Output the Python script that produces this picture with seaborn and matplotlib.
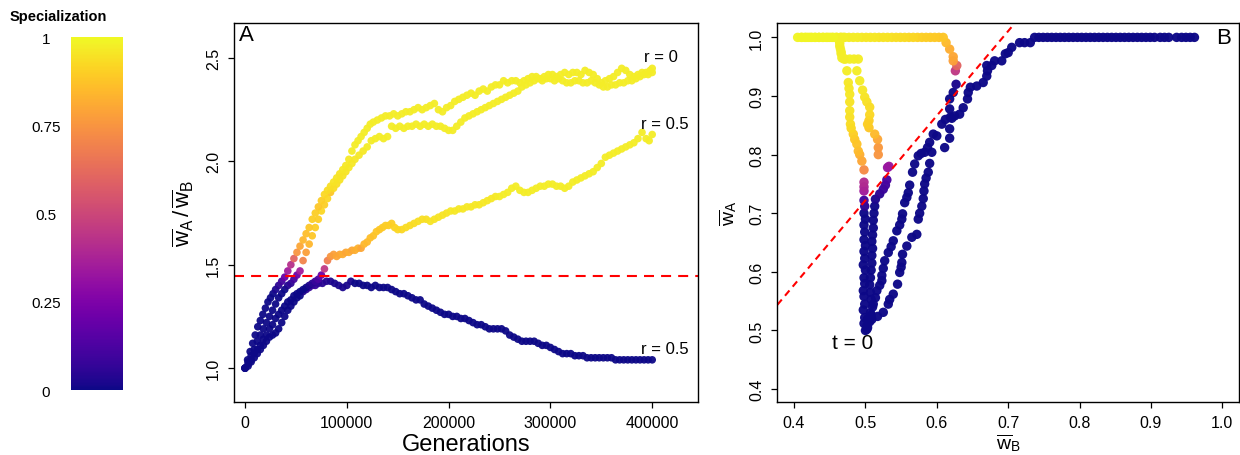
import matplotlib
matplotlib.use("Agg")
import matplotlib.pyplot as plt
import pandas as pd
import seaborn as sns

# ---- data ----
# panel A runs: (generations in thousands, wA/wB, specialization)
run_a4 = [  # r = 0.5, stays generalist
    (0, 1.00, 0), (3, 1.01, 0), (6, 1.03, 0), (9, 1.05, 0), (12, 1.07, 0), (15, 1.09, 0),
    (18, 1.11, 0), (21, 1.13, 0), (24, 1.15, 0), (27, 1.16, 0), (30, 1.17, 0), (33, 1.19, 0),
    (36, 1.22, 0), (39, 1.25, 0), (42, 1.28, 0), (45, 1.30, 0), (48, 1.32, 0), (51, 1.34, 0),
    (54, 1.35, 0), (57, 1.37, 0.03), (60, 1.38, 0.05), (63, 1.39, 0.08), (66, 1.40, 0.1),
    (69, 1.40, 0.08), (72, 1.41, 0.06), (76, 1.41, 0.05), (80, 1.42, 0.04), (84, 1.42, 0.03),
    (88, 1.41, 0.02), (92, 1.40, 0.02), (96, 1.39, 0.02), (100, 1.40, 0.02), (104, 1.42, 0.02),
    (108, 1.41, 0), (112, 1.41, 0), (116, 1.40, 0), (120, 1.40, 0), (124, 1.39, 0), (128, 1.40, 0),
    (132, 1.39, 0), (136, 1.39, 0), (140, 1.39, 0), (144, 1.38, 0), (148, 1.37, 0), (152, 1.36, 0),
    (156, 1.36, 0), (160, 1.35, 0), (164, 1.34, 0), (168, 1.33, 0), (172, 1.33, 0), (176, 1.31, 0),
    (180, 1.30, 0), (184, 1.29, 0), (188, 1.28, 0), (192, 1.27, 0), (196, 1.26, 0), (200, 1.26, 0),
    (204, 1.25, 0), (208, 1.25, 0), (212, 1.24, 0), (216, 1.24, 0), (220, 1.23, 0), (224, 1.22, 0),
    (228, 1.21, 0), (232, 1.21, 0), (236, 1.20, 0), (240, 1.19, 0), (244, 1.19, 0), (248, 1.19, 0),
    (252, 1.19, 0), (256, 1.18, 0), (260, 1.16, 0), (264, 1.15, 0), (268, 1.14, 0), (272, 1.13, 0),
    (276, 1.13, 0), (280, 1.13, 0), (284, 1.13, 0), (288, 1.12, 0), (292, 1.11, 0), (296, 1.11, 0),
    (300, 1.10, 0), (304, 1.09, 0), (308, 1.08, 0), (312, 1.07, 0), (316, 1.07, 0), (320, 1.07, 0),
    (324, 1.06, 0), (328, 1.06, 0), (332, 1.06, 0), (336, 1.05, 0), (340, 1.05, 0), (344, 1.05, 0),
    (348, 1.05, 0), (352, 1.05, 0), (356, 1.05, 0), (360, 1.05, 0), (364, 1.04, 0), (368, 1.04, 0),
    (372, 1.04, 0), (376, 1.04, 0), (380, 1.04, 0), (384, 1.04, 0), (388, 1.04, 0), (392, 1.04, 0),
    (396, 1.04, 0), (400, 1.04, 0),
]
run_a3 = [  # r = 0.5, specialises late
    (0, 1.00, 0), (3, 1.02, 0), (6, 1.04, 0), (9, 1.07, 0), (12, 1.09, 0), (15, 1.11, 0),
    (18, 1.14, 0), (21, 1.16, 0), (24, 1.19, 0), (27, 1.21, 0), (30, 1.24, 0), (33, 1.26, 0),
    (36, 1.28, 0), (39, 1.30, 0), (42, 1.32, 0), (45, 1.33, 0), (48, 1.35, 0), (51, 1.36, 0),
    (54, 1.37, 0), (57, 1.38, 0), (60, 1.39, 0), (63, 1.40, 0.02), (66, 1.41, 0.05), (69, 1.42, 0.08),
    (72, 1.43, 0.12), (75, 1.45, 0.2), (78, 1.48, 0.45), (81, 1.52, 0.68), (84, 1.54, 0.75),
    (87, 1.55, 0.78), (90, 1.54, 0.8), (93, 1.55, 0.8), (96, 1.55, 0.82), (99, 1.56, 0.8),
    (102, 1.56, 0.82), (105, 1.57, 0.8), (108, 1.57, 0.82), (111, 1.58, 0.83), (114, 1.58, 0.8),
    (117, 1.60, 0.84), (120, 1.61, 0.85), (123, 1.63, 0.86), (126, 1.64, 0.87), (129, 1.66, 0.88),
    (132, 1.67, 0.88), (135, 1.68, 0.89), (138, 1.69, 0.9), (141, 1.69, 0.9), (144, 1.70, 0.9),
    (147, 1.68, 0.91), (150, 1.67, 0.92), (154, 1.67, 0.92), (158, 1.68, 0.93), (162, 1.69, 0.93),
    (166, 1.70, 0.93), (170, 1.71, 0.94), (174, 1.72, 0.94), (178, 1.72, 0.94), (182, 1.71, 0.95),
    (186, 1.72, 0.95), (190, 1.73, 0.95), (194, 1.74, 0.95), (198, 1.75, 0.95), (202, 1.76, 0.96),
    (206, 1.76, 0.96), (210, 1.77, 0.96), (214, 1.77, 0.96), (218, 1.78, 0.96), (222, 1.78, 0.96),
    (226, 1.79, 0.96), (230, 1.79, 0.96), (234, 1.80, 0.96), (238, 1.81, 0.96), (242, 1.82, 0.96),
    (246, 1.83, 0.96), (250, 1.83, 0.97), (254, 1.84, 0.97), (258, 1.85, 0.97), (262, 1.87, 0.97),
    (266, 1.88, 0.97), (270, 1.86, 0.97), (274, 1.85, 0.97), (278, 1.85, 0.97), (282, 1.86, 0.97),
    (286, 1.87, 0.97), (290, 1.88, 0.97), (294, 1.88, 0.97), (298, 1.89, 0.97), (302, 1.89, 0.97),
    (306, 1.88, 0.97), (310, 1.88, 0.97), (314, 1.87, 0.97), (318, 1.88, 0.97), (322, 1.90, 0.97),
    (326, 1.91, 0.97), (330, 1.92, 0.97), (334, 1.93, 0.97), (338, 1.94, 0.97), (342, 1.95, 0.97),
    (346, 1.97, 0.97), (350, 1.99, 0.97), (354, 2.02, 0.97), (358, 2.03, 0.97), (362, 2.04, 0.97),
    (366, 2.05, 0.97), (370, 2.06, 0.97), (374, 2.07, 0.97), (378, 2.08, 0.97), (382, 2.09, 0.97),
    (386, 2.11, 0.97), (390, 2.14, 0.97), (394, 2.11, 0.97), (397, 2.10, 0.97), (400, 2.13, 0.97),
]
run_a2 = [  # r = 0, second run
    (0, 1.00, 0), (3, 1.03, 0), (6, 1.06, 0), (9, 1.09, 0), (12, 1.13, 0), (15, 1.16, 0),
    (18, 1.19, 0), (21, 1.22, 0), (24, 1.25, 0), (27, 1.28, 0), (30, 1.31, 0), (33, 1.34, 0),
    (36, 1.36, 0), (39, 1.38, 0), (42, 1.40, 0.03), (45, 1.41, 0.06), (48, 1.43, 0.1),
    (51, 1.45, 0.2), (54, 1.47, 0.35), (57, 1.52, 0.7), (60, 1.56, 0.78), (63, 1.60, 0.84),
    (66, 1.64, 0.88), (69, 1.68, 0.9), (72, 1.72, 0.9), (75, 1.76, 0.92), (78, 1.79, 0.9),
    (81, 1.82, 0.92), (84, 1.85, 0.88), (87, 1.87, 0.93), (90, 1.89, 0.94), (93, 1.91, 0.95),
    (96, 1.93, 0.95), (99, 1.95, 0.95), (102, 1.97, 0.96), (105, 1.99, 0.96), (108, 2.01, 0.96),
    (112, 2.03, 0.96), (116, 2.05, 0.96), (120, 2.07, 0.97), (124, 2.10, 0.97), (128, 2.11, 0.97),
    (132, 2.12, 0.97), (136, 2.11, 0.97), (140, 2.12, 0.97), (144, 2.17, 0.97), (148, 2.16, 0.97),
    (152, 2.17, 0.97), (156, 2.16, 0.97), (160, 2.17, 0.97), (164, 2.17, 0.97), (168, 2.18, 0.97),
    (172, 2.17, 0.97), (176, 2.18, 0.97), (180, 2.17, 0.97), (184, 2.18, 0.97), (188, 2.17, 0.97),
    (192, 2.17, 0.97), (196, 2.16, 0.97), (200, 2.15, 0.97), (204, 2.15, 0.97), (208, 2.17, 0.97),
    (212, 2.19, 0.97), (216, 2.21, 0.97), (220, 2.22, 0.97), (224, 2.23, 0.97), (228, 2.24, 0.97),
    (232, 2.25, 0.97), (236, 2.26, 0.97), (240, 2.27, 0.97), (244, 2.28, 0.97), (248, 2.29, 0.97),
    (252, 2.30, 0.97), (256, 2.31, 0.97), (260, 2.32, 0.97), (264, 2.33, 0.97), (268, 2.34, 0.97),
    (272, 2.36, 0.97), (276, 2.37, 0.97), (280, 2.38, 0.97), (284, 2.39, 0.97), (288, 2.40, 0.97),
    (292, 2.39, 0.97), (296, 2.40, 0.97), (300, 2.40, 0.97), (304, 2.39, 0.97), (308, 2.40, 0.97),
    (312, 2.39, 0.97), (316, 2.38, 0.97), (320, 2.38, 0.97), (324, 2.39, 0.97), (328, 2.39, 0.97),
    (332, 2.38, 0.97), (336, 2.38, 0.97), (340, 2.39, 0.97), (344, 2.38, 0.97), (348, 2.37, 0.97),
    (352, 2.36, 0.97), (356, 2.36, 0.97), (360, 2.37, 0.97), (364, 2.37, 0.97), (368, 2.38, 0.97),
    (372, 2.38, 0.97), (376, 2.39, 0.97), (380, 2.39, 0.97), (384, 2.40, 0.97), (388, 2.41, 0.97),
    (392, 2.42, 0.97), (396, 2.42, 0.97), (400, 2.43, 0.97),
]
run_a1 = [  # r = 0, first run
    (0, 1.00, 0), (2.5, 1.04, 0), (5, 1.08, 0), (7.5, 1.12, 0), (10, 1.16, 0), (12.5, 1.20, 0),
    (15, 1.23, 0), (17.5, 1.26, 0), (20, 1.29, 0), (22.5, 1.32, 0), (25, 1.34, 0), (27.5, 1.36, 0),
    (30, 1.38, 0.02), (33, 1.40, 0.05), (36, 1.42, 0.1), (39, 1.44, 0.2), (42, 1.47, 0.35),
    (45, 1.50, 0.42), (48, 1.53, 0.6), (51, 1.56, 0.75), (54, 1.59, 0.8), (57, 1.62, 0.84),
    (60, 1.65, 0.86), (63, 1.68, 0.88), (66, 1.72, 0.9), (69, 1.75, 0.9), (72, 1.78, 0.88),
    (75, 1.81, 0.9), (78, 1.84, 0.92), (81, 1.86, 0.93), (84, 1.88, 0.94), (87, 1.90, 0.95),
    (90, 1.92, 0.95), (93, 1.94, 0.95), (96, 1.96, 0.96), (99, 1.98, 0.96), (102, 2.01, 0.96),
    (105, 2.05, 0.97), (108, 2.08, 0.97), (111, 2.10, 0.97), (114, 2.12, 0.97), (117, 2.14, 0.97),
    (120, 2.16, 0.97), (123, 2.18, 0.97), (126, 2.19, 0.97), (130, 2.20, 0.97), (134, 2.21, 0.97),
    (138, 2.22, 0.97), (142, 2.22, 0.97), (146, 2.23, 0.97), (150, 2.22, 0.97), (154, 2.23, 0.97),
    (158, 2.24, 0.97), (162, 2.24, 0.97), (166, 2.25, 0.97), (170, 2.26, 0.97), (174, 2.25, 0.97),
    (178, 2.26, 0.97), (182, 2.27, 0.97), (186, 2.28, 0.97), (190, 2.25, 0.97), (194, 2.24, 0.97),
    (198, 2.26, 0.97), (202, 2.27, 0.97), (206, 2.29, 0.97), (210, 2.30, 0.97), (214, 2.31, 0.97),
    (218, 2.32, 0.97), (222, 2.33, 0.97), (226, 2.32, 0.97), (230, 2.34, 0.97), (234, 2.35, 0.97),
    (238, 2.34, 0.97), (242, 2.36, 0.97), (246, 2.37, 0.97), (250, 2.37, 0.97), (254, 2.39, 0.97),
    (258, 2.38, 0.97), (262, 2.39, 0.97), (266, 2.39, 0.97), (270, 2.38, 0.97), (274, 2.39, 0.97),
    (278, 2.40, 0.97), (282, 2.41, 0.97), (286, 2.41, 0.97), (290, 2.40, 0.97), (294, 2.41, 0.97),
    (298, 2.42, 0.97), (302, 2.42, 0.97), (306, 2.41, 0.97), (310, 2.42, 0.97), (314, 2.43, 0.97),
    (318, 2.42, 0.97), (322, 2.43, 0.97), (326, 2.43, 0.97), (330, 2.42, 0.97), (334, 2.44, 0.97),
    (338, 2.43, 0.97), (342, 2.42, 0.97), (346, 2.40, 0.97), (350, 2.38, 0.97), (354, 2.39, 0.97),
    (358, 2.40, 0.97), (362, 2.41, 0.97), (366, 2.43, 0.97), (370, 2.45, 0.97), (374, 2.44, 0.97),
    (378, 2.42, 0.97), (382, 2.41, 0.97), (386, 2.42, 0.97), (390, 2.43, 0.97), (394, 2.43, 0.97),
    (398, 2.44, 0.97), (400, 2.45, 0.97),
]

# panel B runs: (wB, wA, specialization)
run_b4 = [  # ends generalist at the top right
    (0.503, 0.520, 0), (0.507, 0.530, 0), (0.511, 0.545, 0), (0.514, 0.556, 0), (0.516, 0.568, 0),
    (0.520, 0.577, 0), (0.523, 0.585, 0), (0.523, 0.594, 0), (0.525, 0.606, 0), (0.527, 0.619, 0),
    (0.532, 0.633, 0), (0.536, 0.643, 0), (0.539, 0.653, 0), (0.544, 0.670, 0), (0.548, 0.680, 0),
    (0.551, 0.690, 0), (0.552, 0.699, 0), (0.555, 0.718, 0), (0.558, 0.727, 0), (0.560, 0.735, 0),
    (0.562, 0.748, 0), (0.566, 0.770, 0), (0.569, 0.784, 0), (0.574, 0.798, 0), (0.578, 0.802, 0),
    (0.583, 0.804, 0), (0.587, 0.812, 0), (0.590, 0.821, 0), (0.595, 0.835, 0), (0.600, 0.832, 0),
    (0.607, 0.852, 0), (0.612, 0.860, 0), (0.619, 0.864, 0), (0.625, 0.866, 0), (0.632, 0.869, 0),
    (0.637, 0.880, 0), (0.643, 0.895, 0), (0.644, 0.906, 0), (0.647, 0.915, 0), (0.656, 0.917, 0),
    (0.665, 0.923, 0), (0.670, 0.934, 0), (0.671, 0.943, 0), (0.670, 0.952, 0), (0.677, 0.952, 0),
    (0.681, 0.960, 0), (0.691, 0.960, 0), (0.696, 0.972, 0), (0.700, 0.974, 0), (0.705, 0.983, 0),
    (0.716, 0.991, 0), (0.723, 0.991, 0), (0.731, 0.991, 0), (0.737, 1.0, 0), (0.743, 1.0, 0),
    (0.749, 1.0, 0), (0.755, 1.0, 0), (0.761, 1.0, 0), (0.767, 1.0, 0), (0.773, 1.0, 0),
    (0.779, 1.0, 0), (0.785, 1.0, 0), (0.791, 1.0, 0), (0.797, 1.0, 0), (0.803, 1.0, 0),
    (0.809, 1.0, 0), (0.815, 1.0, 0), (0.821, 1.0, 0), (0.827, 1.0, 0), (0.833, 1.0, 0),
    (0.839, 1.0, 0), (0.845, 1.0, 0), (0.851, 1.0, 0), (0.857, 1.0, 0), (0.863, 1.0, 0),
    (0.869, 1.0, 0), (0.875, 1.0, 0), (0.881, 1.0, 0), (0.887, 1.0, 0), (0.893, 1.0, 0),
    (0.899, 1.0, 0), (0.905, 1.0, 0), (0.913, 1.0, 0), (0.919, 1.0, 0), (0.925, 1.0, 0),
    (0.936, 1.0, 0), (0.943, 1.0, 0), (0.949, 1.0, 0), (0.955, 1.0, 0), (0.961, 1.0, 0),
]
run_b3 = [  # climbs to the right, turns, runs left along wA = 1
    (0.502, 0.502, 0), (0.502, 0.508, 0), (0.509, 0.519, 0), (0.517, 0.524, 0), (0.525, 0.531, 0),
    (0.532, 0.545, 0), (0.534, 0.553, 0), (0.539, 0.562, 0), (0.545, 0.579, 0), (0.548, 0.599, 0),
    (0.550, 0.608, 0), (0.551, 0.616, 0), (0.552, 0.630, 0), (0.558, 0.644, 0), (0.565, 0.659, 0),
    (0.572, 0.664, 0), (0.574, 0.690, 0), (0.576, 0.700, 0), (0.579, 0.712, 0), (0.581, 0.725, 0),
    (0.582, 0.738, 0), (0.583, 0.750, 0), (0.585, 0.760, 0), (0.588, 0.770, 0), (0.590, 0.785, 0),
    (0.593, 0.804, 0), (0.611, 0.812, 0), (0.618, 0.828, 0), (0.618, 0.844, 0), (0.621, 0.862, 0),
    (0.618, 0.878, 0), (0.618, 0.895, 0), (0.623, 0.906, 0), (0.627, 0.920, 0.02),
    (0.626, 0.943, 0.45), (0.628, 0.952, 0.6), (0.623, 0.960, 0.78), (0.623, 0.967, 0.8),
    (0.618, 0.980, 0.82), (0.613, 0.991, 0.85), (0.609, 1.0, 0.88), (0.603, 1.0, 0.88),
    (0.597, 1.0, 0.89), (0.591, 1.0, 0.89), (0.585, 1.0, 0.9), (0.579, 1.0, 0.9), (0.573, 1.0, 0.91),
    (0.567, 1.0, 0.92), (0.561, 1.0, 0.92), (0.555, 1.0, 0.93), (0.549, 1.0, 0.93), (0.543, 1.0, 0.94),
    (0.537, 1.0, 0.94), (0.531, 1.0, 0.95), (0.525, 1.0, 0.95), (0.519, 1.0, 0.95), (0.513, 1.0, 0.96),
    (0.507, 1.0, 0.96), (0.501, 1.0, 0.96), (0.495, 1.0, 0.96), (0.489, 1.0, 0.97), (0.483, 1.0, 0.97),
    (0.477, 1.0, 0.97), (0.471, 1.0, 0.97), (0.465, 1.0, 0.97), (0.459, 1.0, 0.98), (0.453, 1.0, 0.98),
    (0.447, 1.0, 0.98), (0.441, 1.0, 0.98), (0.435, 1.0, 0.98), (0.429, 1.0, 0.99), (0.423, 1.0, 0.99),
    (0.417, 1.0, 0.99), (0.411, 1.0, 0.99), (0.405, 1.0, 0.99),
]
run_b2 = [  # right of the wB = 0.5 column
    (0.503, 0.505, 0), (0.506, 0.515, 0), (0.508, 0.526, 0), (0.510, 0.540, 0), (0.508, 0.553, 0),
    (0.507, 0.565, 0), (0.506, 0.578, 0), (0.507, 0.590, 0), (0.508, 0.603, 0), (0.509, 0.615, 0),
    (0.509, 0.628, 0), (0.510, 0.640, 0), (0.509, 0.652, 0), (0.510, 0.663, 0), (0.511, 0.675, 0),
    (0.511, 0.688, 0), (0.512, 0.700, 0), (0.513, 0.712, 0), (0.514, 0.724, 0.02), (0.520, 0.733, 0.05),
    (0.525, 0.741, 0.08), (0.528, 0.748, 0.1), (0.530, 0.757, 0.12), (0.531, 0.778, 0.32),
    (0.533, 0.780, 0.33), (0.518, 0.800, 0.75), (0.518, 0.812, 0.76), (0.517, 0.826, 0.8),
    (0.513, 0.835, 0.85), (0.505, 0.846, 0.88), (0.503, 0.852, 0.9), (0.505, 0.858, 0.9),
    (0.506, 0.868, 0.92), (0.506, 0.881, 0.93), (0.502, 0.890, 0.94), (0.499, 0.898, 0.95),
    (0.496, 0.910, 0.96), (0.492, 0.926, 0.97), (0.488, 0.943, 0.97), (0.490, 0.963, 0.97),
    (0.484, 0.963, 0.97), (0.478, 0.963, 0.98), (0.472, 0.963, 0.98), (0.467, 0.965, 0.98),
    (0.466, 0.972, 0.98), (0.465, 0.980, 0.98), (0.464, 0.990, 0.98), (0.466, 1.0, 0.98),
    (0.469, 1.0, 0.98),
]
run_b1 = [  # straight up the wB = 0.5 column, then left
    (0.500, 0.500, 0), (0.498, 0.512, 0), (0.499, 0.522, 0), (0.497, 0.535, 0), (0.499, 0.545, 0),
    (0.498, 0.558, 0), (0.497, 0.568, 0), (0.499, 0.580, 0), (0.498, 0.590, 0), (0.500, 0.603, 0),
    (0.497, 0.612, 0), (0.499, 0.623, 0), (0.498, 0.635, 0), (0.500, 0.645, 0), (0.498, 0.655, 0),
    (0.499, 0.668, 0), (0.498, 0.680, 0), (0.500, 0.690, 0), (0.498, 0.700, 0), (0.499, 0.712, 0.05),
    (0.498, 0.722, 0.1), (0.498, 0.738, 0.35), (0.498, 0.745, 0.38), (0.498, 0.753, 0.4),
    (0.498, 0.774, 0.72), (0.495, 0.789, 0.8), (0.492, 0.800, 0.82), (0.490, 0.806, 0.85),
    (0.488, 0.818, 0.87), (0.485, 0.826, 0.88), (0.483, 0.835, 0.9), (0.480, 0.845, 0.92),
    (0.479, 0.852, 0.93), (0.478, 0.864, 0.94), (0.478, 0.875, 0.95), (0.478, 0.890, 0.95),
    (0.478, 0.903, 0.96), (0.477, 0.913, 0.96), (0.476, 0.923, 0.96), (0.474, 0.943, 0.97),
    (0.470, 0.963, 0.97), (0.466, 0.975, 0.97), (0.464, 0.985, 0.97), (0.463, 0.995, 0.98),
    (0.460, 1.0, 0.98), (0.455, 1.0, 0.99), (0.450, 1.0, 0.99), (0.445, 1.0, 0.99), (0.440, 1.0, 0.99),
    (0.435, 1.0, 0.99), (0.430, 1.0, 0.99), (0.425, 1.0, 0.99), (0.420, 1.0, 0.99), (0.415, 1.0, 0.99),
    (0.410, 1.0, 0.99),
]

threshold = 1.444  # dashed line in both panels (wA/wB)
gen_ticks = [0, 100000, 200000, 300000, 400000]
ratio_ticks = [1.0, 1.5, 2.0, 2.5]
w_ticks = [0.4, 0.5, 0.6, 0.7, 0.8, 0.9, 1.0]
spec_ticks = [0, 0.25, 0.5, 0.75, 1]
spec_labels = ["0", "0.25", "0.5", "0.75", "1"]
run_labels = [("r = 0", 408700, 2.509), ("r = 0.5", 412600, 2.185), ("r = 0.5", 412600, 1.097)]

# ---- build frames ----
dfA = pd.concat([pd.DataFrame(r, columns=["gen_k", "ratio", "spec"])
                 for r in [run_a4, run_a3, run_a2, run_a1]], ignore_index=True)
dfA["gen"] = dfA["gen_k"] * 1000
dfB = pd.concat([pd.DataFrame(r, columns=["wB", "wA", "spec"])
                 for r in [run_b4, run_b3, run_b2, run_b1]], ignore_index=True)

sns.set_style("ticks")
plt.rcParams["font.family"] = ["Liberation Sans", "DejaVu Sans"]
plt.rcParams["mathtext.fontset"] = "custom"
plt.rcParams["mathtext.rm"] = "Liberation Sans"
plt.rcParams["mathtext.it"] = "Liberation Sans"
plt.rcParams["mathtext.bf"] = "Liberation Sans:bold"
plt.rcParams["text.color"] = "black"
plt.rcParams["axes.labelcolor"] = "black"
plt.rcParams["xtick.color"] = "black"
plt.rcParams["ytick.color"] = "black"

fig = plt.figure(figsize=(12.4, 4.56), dpi=100)
axA = fig.add_axes([0.189, 0.1162, 0.3735, 0.831])
axB = fig.add_axes([0.6269, 0.1162, 0.3723, 0.831])
cax = fig.add_axes([0.0573, 0.1425, 0.0419, 0.774])

sns.scatterplot(data=dfA, x="gen", y="ratio", hue="spec", palette="plasma", hue_norm=(0, 1),
                s=30, linewidth=0, alpha=0.95, legend=False, ax=axA)
axA.axhline(threshold, color="red", lw=1.5, dashes=(4.8, 3.4))

sns.scatterplot(data=dfB, x="wB", y="wA", hue="spec", palette="plasma", hue_norm=(0, 1),
                s=46, linewidth=0, alpha=0.97, legend=False, ax=axB)
axB.axline((0, 0), slope=threshold, color="red", lw=1.5, dashes=(3.3, 2.4))

# ---- axes styling (R-like boxes) ----
for ax in (axA, axB):
    for sp in ax.spines.values():
        sp.set_visible(True)
        sp.set_linewidth(1.0)
        sp.set_color("black")
    ax.tick_params(axis="both", direction="out", length=4.5, width=0.9, color="black",
                   labelsize=11.5, labelcolor="black")
    ax.tick_params(axis="x", pad=4.5)
    ax.tick_params(axis="y", pad=5, labelrotation=90)

axA.set_xlim(-10500, 444500)
axA.set_ylim(0.836, 2.669)
axA.set_xticks(gen_ticks)
axA.set_xticklabels([str(t) for t in gen_ticks])
axA.set_yticks(ratio_ticks)
axA.set_yticklabels([f"{t:.1f}" for t in ratio_ticks], va="center")
axA.set_xlabel("Generations", fontsize=17)
axA.set_ylabel(r"$\overline{\mathrm{w}}_{\mathrm{A}}\,/\,\overline{\mathrm{w}}_{\mathrm{B}}$", fontsize=16)
axA.xaxis.set_label_coords(0.5, -0.111)
axA.xaxis.label.set_va("center")
axA.yaxis.set_label_coords(-0.111, 0.5)
axA.yaxis.label.set_va("center")
axA.text(0.009, 0.997, "A", transform=axA.transAxes, fontsize=16, ha="left", va="top")
for txt, gx, gy in run_labels:
    axA.text(gx, gy, txt, fontsize=12, ha="center", va="center")

axB.set_xlim(0.3766, 1.0234)
axB.set_ylim(0.378, 1.0244)
axB.set_xticks(w_ticks)
axB.set_xticklabels([f"{t:.1f}" for t in w_ticks])
axB.set_yticks(w_ticks)
axB.set_yticklabels([f"{t:.1f}" for t in w_ticks], va="center")
axB.set_xlabel(r"$\overline{\mathrm{w}}_{\mathrm{B}}$", fontsize=14)
axB.set_ylabel(r"$\overline{\mathrm{w}}_{\mathrm{A}}$", fontsize=14)
axB.xaxis.set_label_coords(0.5, -0.106)
axB.xaxis.label.set_va("center")
axB.yaxis.set_label_coords(-0.107, 0.5)
axB.yaxis.label.set_va("center")
axB.text(0.983, 0.989, "B", transform=axB.transAxes, fontsize=16, ha="right", va="top")
axB.text(0.482, 0.479, "t = 0", fontsize=15, ha="center", va="center")

# ---- colour bar ----
sm = plt.cm.ScalarMappable(cmap="plasma", norm=plt.Normalize(0, 1))
cb = fig.colorbar(sm, cax=cax, ticks=spec_ticks)
cb.outline.set_visible(False)
cax.yaxis.set_ticks_position("left")
cax.set_yticklabels(spec_labels)
cax.tick_params(length=0, labelsize=11, pad=18, labelcolor="black")
for lab in cax.get_yticklabels():
    lab.set_ha("center")
fig.text(58.5 / 1240, 1 - 17 / 456, "Specialization", fontsize=10.5, fontweight="bold",
         ha="center", va="center", color="black")

fig.savefig("out.png", dpi=100)
